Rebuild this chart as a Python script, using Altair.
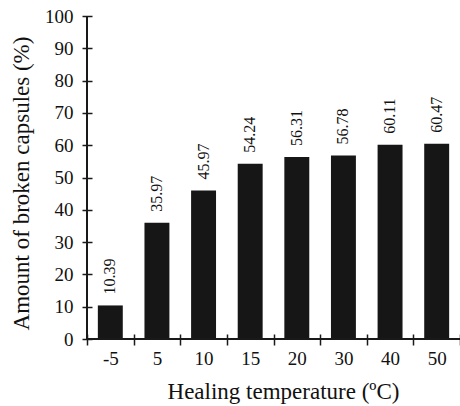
import altair as alt
import pandas as pd

temps = ["-5", "5", "10", "15", "20", "30", "40", "50"]
values = [10.39, 35.97, 45.97, 54.24, 56.31, 56.78, 60.11, 60.47]
labels = ["10.39", "35.97", "45.97", "54.24", "56.31", "56.78", "60.11", "60.47"]
y_ticks = [0, 10, 20, 30, 40, 50, 60, 70, 80, 90, 100]
y_range = [0, 100]

df = pd.DataFrame({"temp": temps, "value": values, "label": labels,
                   "lo": [y_range[0]] * len(temps), "hi": [y_range[1]] * len(temps)})

FONT = "Liberation Serif"
INK = "#1a1a1a"
TXT = "#111111"

x_axis = alt.Axis(
    title="Healing temperature (ºC)",
    labelAngle=0,
    domain=False,
    tickBand="extent",
    offset=-5,
    tickSize=11,
    tickColor=INK,
    tickWidth=1.5,
    labelPadding=4,
    labelFont=FONT,
    labelFontSize=19,
    labelColor=TXT,
    titleFont=FONT,
    titleFontSize=23,
    titleFontWeight="normal",
    titleColor=TXT,
    titleX=196,
    titleY=64,
    titleBaseline="alphabetic",
    grid=False,
)

y_axis = alt.Axis(
    title="Amount of broken capsules (%)",
    values=y_ticks,
    domain=False,
    offset=-5,
    tickSize=10,
    tickColor=INK,
    tickWidth=1.5,
    labelPadding=9,
    labelFont=FONT,
    labelFontSize=19,
    labelColor=TXT,
    labelOverlap=False,
    titleFont=FONT,
    titleFontSize=23,
    titleFontWeight="normal",
    titleColor=TXT,
    titleX=-64,
    titleY=167,
    titleAngle=270,
    titleBaseline="alphabetic",
    grid=False,
)

y_scale = alt.Scale(domain=y_range, nice=False)
x_enc = alt.X("temp:N", sort=temps, scale=alt.Scale(paddingInner=0, paddingOuter=0), axis=x_axis)
y_enc = alt.Y("value:Q", scale=y_scale, axis=y_axis)

base = alt.Chart(df)

bars = base.mark_bar(color="#161616", width=alt.RelativeBandSize(0.535)).encode(
    x=x_enc, y=y_enc
)

text = base.mark_text(
    angle=270, align="left", baseline="middle", yOffset=-11,
    font=FONT, fontSize=16, color=TXT
).encode(x=x_enc, y=y_enc, text="label:N")

x_domain = base.mark_rule(color=INK, strokeWidth=1.5).encode(
    y=alt.Y("lo:Q", scale=y_scale, axis=y_axis)
)
y_domain = base.mark_rule(color=INK, strokeWidth=1.5).encode(
    x=alt.value(0),
    y=alt.Y("lo:Q", scale=y_scale, axis=y_axis),
    y2="hi:Q",
)

chart = alt.layer(bars, text, x_domain, y_domain).properties(
    width=373,
    height=323,
    padding={"left": 87, "top": 16, "right": 0, "bottom": 67},
    autosize=alt.AutoSizeParams(type="none"),
    background="white",
).configure_view(stroke=None)

chart.save("out.html", embed_options={"renderer": "svg", "actions": False})
